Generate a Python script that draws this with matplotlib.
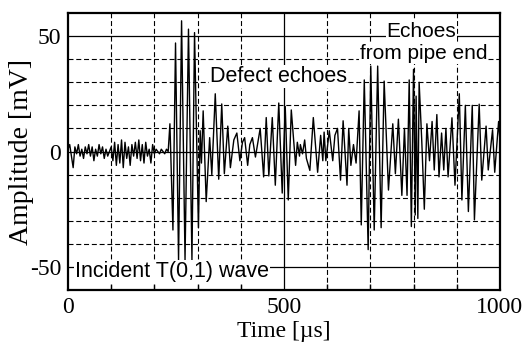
import matplotlib
matplotlib.use("Agg")
import matplotlib.pyplot as plt
from matplotlib.ticker import MultipleLocator

# Signal (time in us, amplitude in mV)
time_us = [
    0, 4, 8, 12, 16, 20, 24, 28, 32, 36, 40, 44, 48, 52, 56, 60, 64, 68, 72, 76,
    80, 84, 88, 92, 96, 100, 104, 108, 112, 116, 120, 124, 128, 132, 136, 140, 144,
    148, 152, 156, 160, 164, 168, 172, 176, 180, 184, 188, 192, 196, 200, 204, 208,
    212, 216, 220, 224, 228, 232,
    236, 243, 249, 256, 263, 271, 279, 287, 293, 302,
    306, 309, 313, 320, 328, 333, 341, 349, 356, 362, 370, 376, 384, 391, 398, 404,
    409, 416, 421, 427, 434, 445, 453, 459, 465, 473, 480, 488, 496, 503, 510, 517,
    527, 531, 536, 538, 543, 548, 552, 560, 568, 578, 585, 590, 593, 597, 605, 613,
    618, 624, 631, 637, 646, 650, 655, 661, 667, 674, 679, 686, 695, 701, 709, 717,
    725, 732, 742, 752, 758, 765, 773, 779, 785, 790, 795, 800, 804, 806, 810, 813,
    819, 825, 831, 837, 843, 848, 854, 859, 865, 870, 875, 880, 889, 896, 906, 912,
    920, 927, 936, 941, 952, 958, 968, 973, 983, 988, 997, 1000,
]
amplitude_mv = [
    1, 3, -2, -7, 2, -1, 3, -2, 1, -3, 2, -1, 3, -2, 2, -4, 1, -2, 3, -1,
    2, -3, 1, -2, 0, 2, -4, 4, -6, 3, -5, 5, -7, 4, -3, 2, -6,
    3, -2, 4, -3, 5, -4, 3, -5, 4, -2, 1, -5, 3, -1, 1, 0,
    -1, 1, 0, -1, 1, 0,
    12, -34, 47, -47, 56.6, -47, 53, -47, 51.5, -33,
    9, -5, 17.6, -21.7, 6, -10, 25, -12, 20.6, -9.6, 11, -7, 5, 8, -4, 4,
    6, -6, 3, 6, -2.4, 10, -11, 14.7, -10.6, 14.7, -14.6, 21, -18, 19.5, -21, 18,
    -6, 4, -2, 3, -1, 5, -3, -8.2, 14.7, -9, 7, -4, 8.4, -4, 9, -4,
    7, 10, -12.4, 13.3, -14.6, 10, -6, 3, -5, 17.6, -31.8, 31, -42.5, 37, -34, 37,
    -33, 30.5, -16.7, 12, -9.6, 14, -19, 10, -19, 31, -32.5, 35.6, -27.5, 24, -29, 30,
    5, -25, 12, -4, 13, -8, 16, -11, 8, -8, 10, -11, 14.6, -14.6, 25, -21,
    20, -26, 20, -29.6, 20.5, -12.4, 11, -8, 9.4, -9, 13, 5,
]

x_major = [0, 500, 1000]
y_major = [-50, 0, 50]

serif = ["Liberation Serif", "DejaVu Serif"]
sans = ["Liberation Sans", "DejaVu Sans"]

fig = plt.figure(figsize=(5.29, 3.49), dpi=100)
ax = fig.add_axes([0.1285, 0.169, 0.8165, 0.7938])

ax.set_xlim(0, 1000)
ax.set_ylim(-60, 60)

# dashed grid every 100 us / 10 mV, solid at the labelled ticks
for xv in range(100, 1000, 100):
    if xv != 500:
        ax.axvline(xv, color="black", lw=0.8, ls=(0, (4.5, 2.5)), zorder=1)
for yv in range(-50, 60, 10):
    if yv not in y_major:
        ax.axhline(yv, color="black", lw=0.8, ls=(0, (4.5, 2.5)), zorder=1)
for yv in y_major:
    ax.axhline(yv, color="black", lw=0.9, zorder=1)
ax.axvline(500, color="black", lw=0.9, zorder=1)

ax.plot(time_us, amplitude_mv, color="black", lw=1.0, zorder=2)

ax.set_xticks(x_major)
ax.set_yticks(y_major)
ax.set_xticklabels([str(v) for v in x_major], family=serif, fontsize=17)
ax.set_yticklabels([str(v) for v in y_major], family=serif, fontsize=17)
ax.xaxis.set_minor_locator(MultipleLocator(100))
ax.tick_params(axis="both", which="major", length=0, pad=5)
ax.tick_params(axis="x", which="minor", direction="in", length=4, width=1)
ax.tick_params(axis="y", which="minor", length=0)

ax.set_xlabel("Time [µs]", family=serif, fontsize=17, labelpad=2)
ax.set_ylabel("Amplitude [mV]", family=serif, fontsize=20, labelpad=-3)

for s in ax.spines.values():
    s.set_linewidth(1.6)

box = dict(facecolor="white", edgecolor="none", pad=0.5)
ax.text(329, 32.5, "Defect echoes", family=sans, fontsize=15.5, va="center",
        ha="left", bbox=box, zorder=3)
ax.text(818, 52, "Echoes", family=sans, fontsize=15, va="center",
        ha="center", bbox=box, zorder=3)
ax.text(823, 42.5, "from pipe end", family=sans, fontsize=15, va="center",
        ha="center", bbox=box, zorder=3)
ax.text(16, -52, "Incident T(0,1) wave", family=sans, fontsize=15.5, va="center",
        ha="left", bbox=box, zorder=3)

fig.savefig("out.png", dpi=100)
